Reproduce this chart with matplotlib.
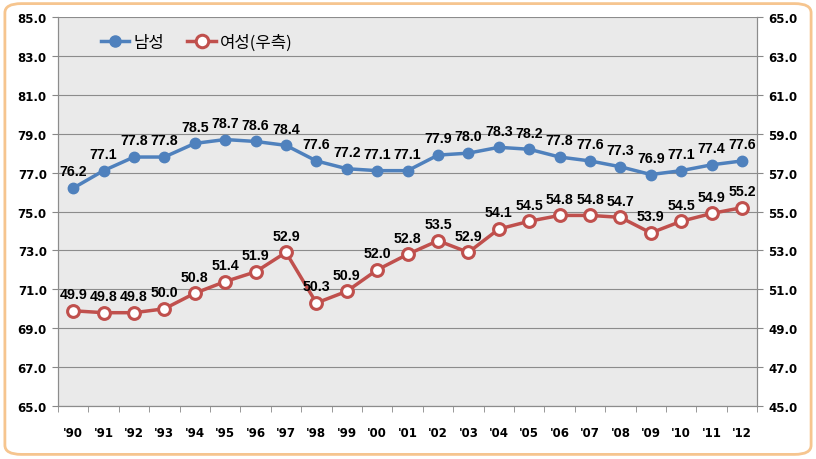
import matplotlib
matplotlib.use("Agg")
import matplotlib.pyplot as plt
from matplotlib.patches import FancyBboxPatch
from matplotlib.lines import Line2D

years = ["'90", "'91", "'92", "'93", "'94", "'95", "'96", "'97", "'98", "'99", "'00", "'01",
         "'02", "'03", "'04", "'05", "'06", "'07", "'08", "'09", "'10", "'11", "'12"]
male = [76.2, 77.1, 77.8, 77.8, 78.5, 78.7, 78.6, 78.4, 77.6, 77.2, 77.1, 77.1,
        77.9, 78.0, 78.3, 78.2, 77.8, 77.6, 77.3, 76.9, 77.1, 77.4, 77.6]
female = [49.9, 49.8, 49.8, 50.0, 50.8, 51.4, 51.9, 52.9, 50.3, 50.9, 52.0, 52.8,
          53.5, 52.9, 54.1, 54.5, 54.8, 54.8, 54.7, 53.9, 54.5, 54.9, 55.2]
left_ticks = [65.0, 67.0, 69.0, 71.0, 73.0, 75.0, 77.0, 79.0, 81.0, 83.0, 85.0]
right_ticks = [45.0, 47.0, 49.0, 51.0, 53.0, 55.0, 57.0, 59.0, 61.0, 63.0, 65.0]
legend_labels = ["남성", "여성(우측)"]

plt.rcParams['font.family'] = ['DejaVu Sans', 'Noto Sans CJK KR']
LBL = ['Liberation Sans', 'DejaVu Sans']

fig = plt.figure(figsize=(8.16, 4.6), dpi=100)
fig.patches.append(FancyBboxPatch((0.006, 0.01), 0.988, 0.98, boxstyle="round,pad=0,rounding_size=0.02",
                                  transform=fig.transFigure, facecolor='white',
                                  edgecolor='#F6C58F', linewidth=2.0, zorder=-5))

ax = fig.add_axes([0.071, 0.115, 0.857, 0.846])
ax.set_facecolor('#EAEAEA')
ax2 = ax.twinx()

x = list(range(len(years)))
blue = '#4F81BD'
red = '#C0504D'

ax.plot(x, male, color=blue, lw=2.5, marker='o', markersize=7.5,
        markerfacecolor=blue, markeredgecolor=blue, zorder=3)
ax2.plot(x, female, color=red, lw=2.5, marker='o', markersize=8.5,
         markerfacecolor='white', markeredgecolor=red, markeredgewidth=2.2, zorder=3)

for xi, v in zip(x, male):
    ax.annotate(f"{v:.1f}", (xi, v), xytext=(0, 7), textcoords='offset points',
                ha='center', va='bottom', fontsize=10.2, fontweight='bold', color='black', family=LBL)
for xi, v in zip(x, female):
    ax2.annotate(f"{v:.1f}", (xi, v), xytext=(0, 7), textcoords='offset points',
                 ha='center', va='bottom', fontsize=10.2, fontweight='bold', color='black', family=LBL)

ax.set_xlim(-0.5, len(years) - 0.5)
ax.set_ylim(65, 85)
ax2.set_ylim(45, 65)
ax.set_yticks(left_ticks)
ax.set_yticklabels([f"{t:.1f}" for t in left_ticks], fontsize=8.5, fontweight='bold')
ax2.set_yticks(right_ticks)
ax2.set_yticklabels([f"{t:.1f}" for t in right_ticks], fontsize=8.5, fontweight='bold')
ax.set_xticks(x)
ax.set_xticklabels(years, fontsize=8.5, fontweight='bold')
ax.set_xticks([i - 0.5 for i in range(len(years) + 1)], minor=True)
ax.tick_params(axis='x', which='major', length=0, pad=14)
ax.tick_params(axis='x', which='minor', length=4, color='#888888')
ax.tick_params(axis='y', length=4, color='#888888', pad=4)
ax2.tick_params(axis='y', length=4, color='#888888', pad=4)

ax.grid(axis='y', color='#8C8C8C', lw=0.8)
ax.set_axisbelow(True)
for a in (ax, ax2):
    for s in a.spines.values():
        s.set_color('#8C8C8C')
        s.set_linewidth(0.8)
    a.spines['top'].set_visible(False)

handles = [Line2D([0], [0], color=blue, lw=2.5, marker='o', markersize=8, markerfacecolor=blue),
           Line2D([0], [0], color=red, lw=2.5, marker='o', markersize=9, markerfacecolor='white',
                  markeredgewidth=2.2)]
ax.legend(handles, legend_labels, loc='upper left', bbox_to_anchor=(0.04, 0.995), ncol=2, frameon=False,
          prop={'family': ['Noto Sans CJK KR'], 'size': 12}, handlelength=1.7, columnspacing=1.4,
          handletextpad=0.25)

fig.savefig("out.png", dpi=100)
